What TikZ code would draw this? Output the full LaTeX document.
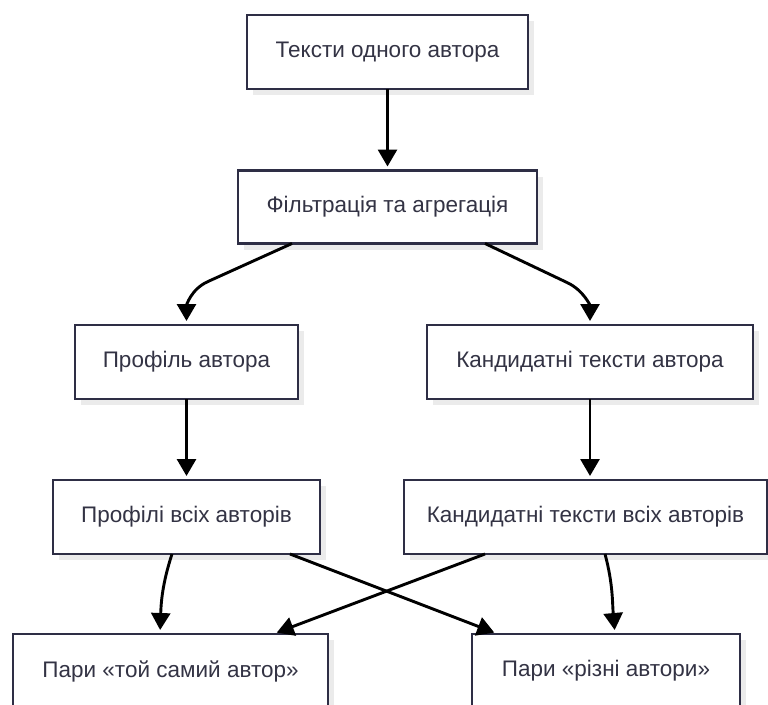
\documentclass[tikz,border=0pt]{standalone}
\usepackage{fontspec}
\setmainfont{Liberation Sans}
\usetikzlibrary{arrows.meta,shadows}

\definecolor{boxline}{HTML}{2E2E45}
\definecolor{boxtext}{HTML}{333344}
\definecolor{shadowgray}{HTML}{EBEBEB}

\tikzset{
  x=1pt, y=1pt,
  flowbox/.style={
    draw=boxline, line width=2.8pt, fill=white, text=boxtext,
    minimum height=74pt, inner sep=0pt, outer sep=0pt,
    font=\fontsize{22.5}{25}\selectfont,
    general shadow={fill=shadowgray, shadow xshift=6pt, shadow yshift=-6pt}
  },
  flow/.style={
    draw=black, line width=2.9pt,
    -{Triangle[width=19pt,length=17pt]},
    shorten >=4pt
  }
}

\begin{document}
\begin{tikzpicture}
  \useasboundingbox (0,0) rectangle (768,-704);
  \clip (0,0) rectangle (768,-704);

  % boxes
  \node[flowbox, minimum width=281pt] (b1) at (387.5,-52)  {Тексти одного автора};
  \node[flowbox, minimum width=299pt, minimum height=73pt] (b2) at (387.5,-207) {Фільтрація та агрегація};
  \node[flowbox, minimum width=223pt] (b3) at (186.5,-362) {Профіль автора};
  \node[flowbox, minimum width=326pt] (b4) at (590,-362)   {Кандидатні тексти автора};
  \node[flowbox, minimum width=267pt] (b5) at (186.5,-517) {Профілі всіх авторів};
  \node[flowbox, minimum width=363pt] (b6) at (585.5,-517) {Кандидатні тексти всіх авторів};
  \node[flowbox, minimum width=315pt] (b7) at (170.5,-671) {Пари «той самий автор»};
  \node[flowbox, minimum width=268pt] (b8) at (606,-671)   {Пари «різні автори»};

  % connectors
  \draw[flow] (b1.south) -- (b2.north);
  \draw[flow] ([xshift=-95.5pt]b2.south) -- ++(-84,-38) to[out=-156,in=90] (b3.north);
  \draw[flow] ([xshift=97.5pt]b2.south) -- ++(82,-39) to[out=-25,in=90] (b4.north);
  \draw[flow] (b3.south) -- (b5.north);
  \draw[flow] (b4.south) -- (b4.south |- b6.north);
  \draw[flow] ([xshift=-14.5pt]b5.south) to[out=-108,in=88] ([xshift=-10.5pt]b7.north);
  \draw[flow] ([xshift=103.5pt]b5.south) -- ([xshift=-108pt]b8.north);
  \draw[flow] ([xshift=-100.5pt]b6.south) -- ([xshift=102.5pt]b7.north);
  \draw[flow] ([xshift=19.5pt]b6.south) to[out=-75,in=95] ([xshift=9pt]b8.north);
\end{tikzpicture}
\end{document}
